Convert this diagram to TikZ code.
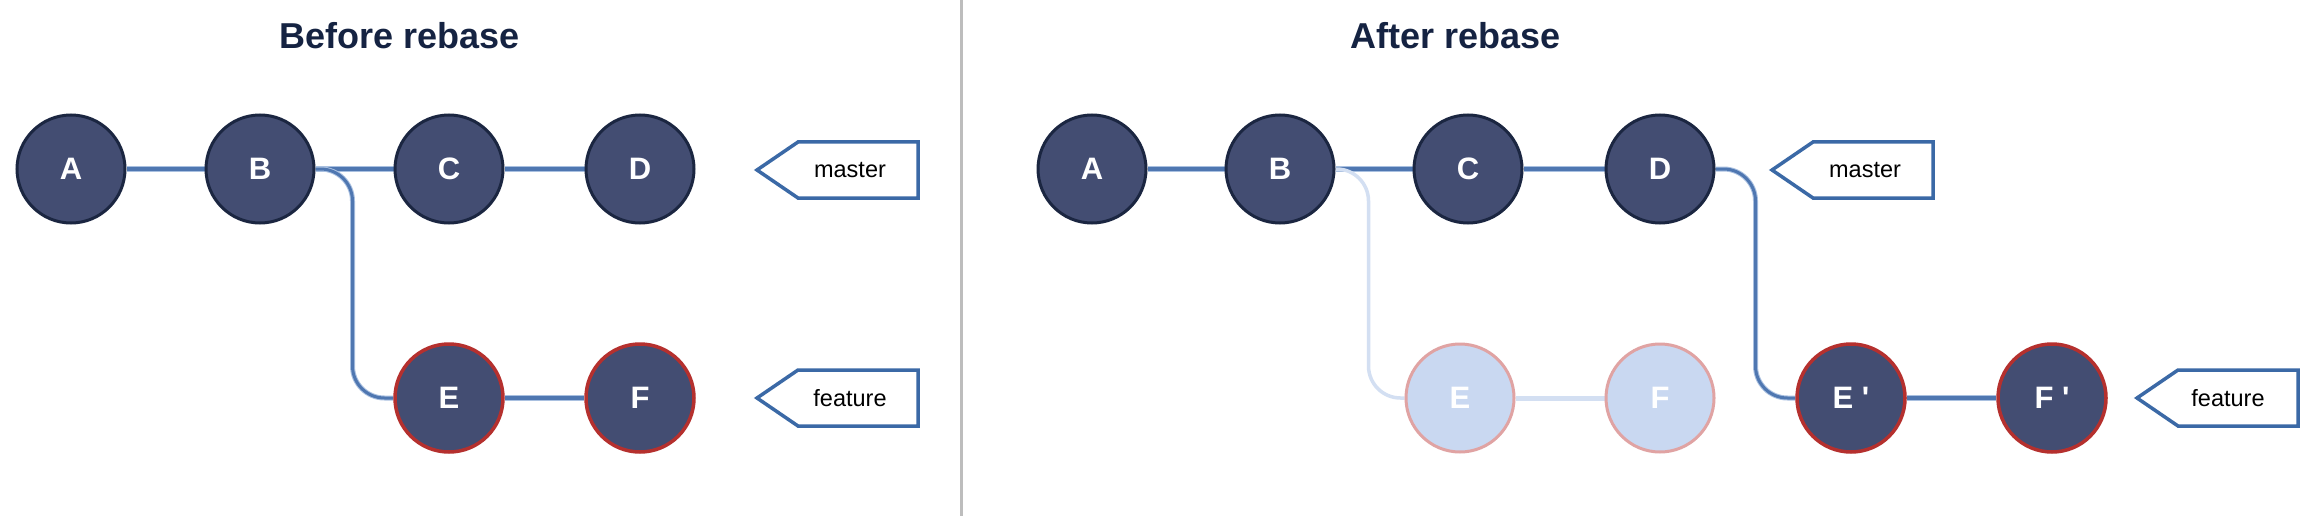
\documentclass[tikz,border=0pt]{standalone}
\usepackage{fontspec}
\setmainfont{Liberation Sans}
\usetikzlibrary{backgrounds}
\definecolor{navy}{HTML}{434D72}
\definecolor{navyline}{HTML}{1B2641}
\definecolor{redline}{HTML}{B5302E}
\definecolor{fadefill}{HTML}{C9D8F1}
\definecolor{fadeline}{HTML}{E0A3A3}
\definecolor{linkcol}{HTML}{4F77B1}
\definecolor{linkedge}{HTML}{A9C0E0}
\definecolor{fadelink}{HTML}{D3DFF2}
\definecolor{tagcol}{HTML}{3B69A6}
\definecolor{titlecol}{HTML}{152342}
\definecolor{divcol}{HTML}{BDBDBD}
\tikzset{
  commit/.style={circle, minimum size=108pt, inner sep=0pt, fill=navy, draw=navyline, line width=3pt,
    text=white, font=\fontsize{31}{31}\selectfont\bfseries},
  newcommit/.style={commit, draw=redline, line width=3.5pt},
  oldcommit/.style={commit, fill=fadefill, draw=fadeline, line width=3pt},
  linkedge/.style={draw=linkedge, line width=6.5pt},
  linkcore/.style={draw=linkcol, line width=4pt},
  branchedge/.style={draw=linkedge, line width=5pt, rounded corners=32pt},
  branchcore/.style={draw=linkcol, line width=3pt, rounded corners=32pt},
  fadedlink/.style={draw=fadelink, line width=5pt},
  fadedbranch/.style={draw=fadelink, line width=3.5pt, rounded corners=32pt},
  tagshape/.style={draw=tagcol, line width=3.5pt, fill=white, line join=miter},
  tagtext/.style={font=\fontsize{23.5}{23.5}\selectfont, text=black, inner sep=0pt},
  titletext/.style={font=\fontsize{36}{36}\selectfont\bfseries, text=titlecol, inner sep=0pt}
}
\begin{document}
\begin{tikzpicture}[x=1pt, y=-1pt]
\useasboundingbox (0,0) rectangle (2320,516);
% divider
\draw[divcol, line width=3pt] (961,0) -- (961,516);
% titles
\node[titletext] (t1) at (400,36) {Before rebase};
\node[titletext] (t2) at (1456,36) {After rebase};

% ---------- Before ----------
\node[commit] (A1) at (71,169) {A};
\node[commit] (B1) at (260,169) {B};
\node[commit] (C1) at (449,169) {C};
\node[commit] (D1) at (640,169) {D};
\node[newcommit] (E1) at (449,398) {E};
\node[newcommit] (F1) at (640,398) {F};

\draw[tagshape] (757,170) -- (798,142) -- (918,142) -- (918,198) -- (798,198) -- cycle;
\node[tagtext] (m1) at (850,170) {master};
\draw[tagshape] (757,398) -- (798,370) -- (918,370) -- (918,426) -- (798,426) -- cycle;
\node[tagtext] (f1) at (850,398) {feature};

% ---------- After ----------
\node[commit] (A2) at (1092,169) {A};
\node[commit] (B2) at (1280,169) {B};
\node[commit] (C2) at (1468,169) {C};
\node[commit] (D2) at (1660,169) {D};
\node[oldcommit] (E2) at (1460,398) {E};
\node[oldcommit] (F2) at (1660,398) {F};
\node[newcommit] (E3) at (1851,398) {E~\textquotesingle};
\node[newcommit] (F3) at (2052,398) {F~\textquotesingle};

\draw[tagshape] (1772,170) -- (1813,142) -- (1933,142) -- (1933,198) -- (1813,198) -- cycle;
\node[tagtext] (m2) at (1865,170) {master};
\draw[tagshape] (2137,398) -- (2178,370) -- (2298,370) -- (2298,426) -- (2178,426) -- cycle;
\node[tagtext] (f2) at (2228,398) {feature};

\begin{scope}[on background layer]
  \fill[white] (0,0) rectangle (2320,516);
  \foreach \a/\b in {A1/B1, B1/C1, C1/D1, E1/F1, A2/B2, B2/C2, C2/D2, E3/F3} {
    \draw[linkedge] (\a.east) -- (\b.west);
    \draw[linkcore] (\a.east) -- (\b.west);
  }
  \draw[branchedge] (B1.east) -- ++(37,0) |- (E1.west);
  \draw[branchcore] (B1.east) -- ++(37,0) |- (E1.west);
  \draw[branchedge] (D2.east) -- ++(40,0) |- (E3.west);
  \draw[branchcore] (D2.east) -- ++(40,0) |- (E3.west);
  \draw[fadedbranch] (B2.east) -- ++(33,0) |- (E2.west);
  \draw[fadedlink] (E2.east) -- (F2.west);
\end{scope}
\end{tikzpicture}
\end{document}
